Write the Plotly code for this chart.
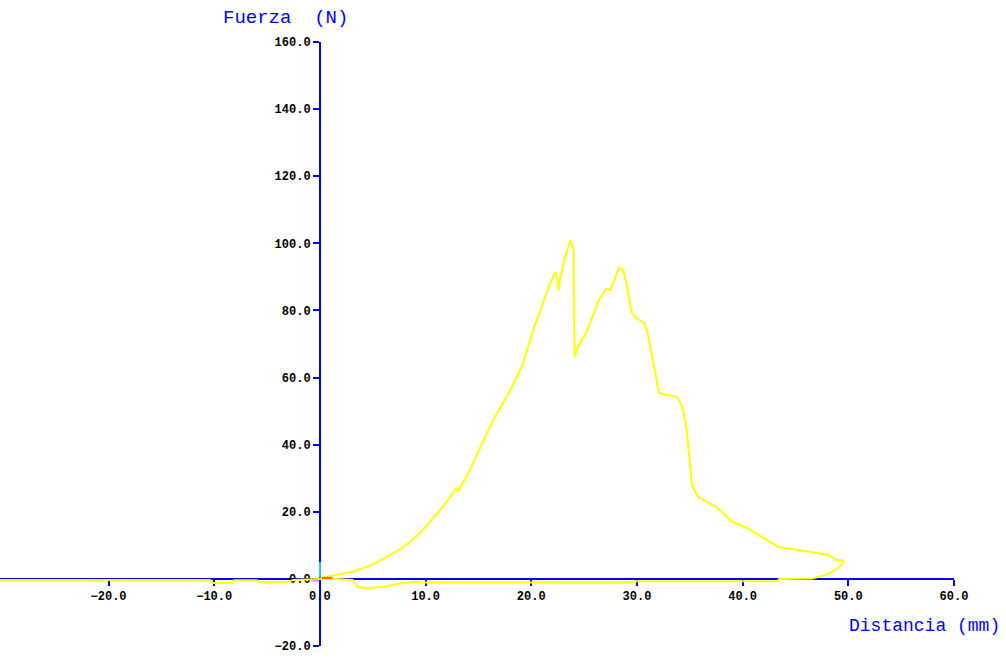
import plotly.graph_objects as go

# Loading curve (Distancia mm, Fuerza N)
load_x = [0, 0.5, 1.5, 3.1, 4.7, 6.3, 7.5, 8.5, 9.5, 10.4, 11.2, 12.0, 12.9, 13.1, 13.6, 14.2,
          15.3, 16.4, 17.8, 19.1, 20.2, 21.3, 21.8, 22.3, 22.6, 22.7, 23.2, 23.7, 24.0, 24.1,
          24.4, 25.2, 26.4, 27.1, 27.5, 28.3, 28.7, 29.0, 29.5, 29.9, 30.7, 31.0, 31.5, 32.1,
          33.8, 34.3, 34.7, 35.1, 35.2, 35.8, 37.5, 39.0, 40.3, 41.8, 43.4, 45.9, 48.1, 48.8, 49.6]
load_y = [0, 0.6, 1.2, 2.1, 3.9, 6.6, 8.6, 11.0, 13.8, 17.0, 19.8, 23.0, 27.0, 26.2, 29.0, 32.5,
          40.0, 47.4, 55.0, 63.2, 74.2, 84.0, 88.2, 91.5, 86.0, 89.0, 96.0, 101.0, 98.0, 66.2,
          69.1, 73.3, 83.1, 86.4, 86.1, 92.7, 92.0, 88.2, 79.3, 77.8, 76.3, 73.3, 65.3, 55.4,
          54.2, 51.3, 44.4, 32.5, 28.0, 24.4, 21.5, 17.0, 15.5, 12.5, 9.5, 8.3, 7.2, 5.7, 5.4]

# Return curve
unload_x = [49.6, 49.1, 47.9, 46.6, 43.5, 43.2, 30.0, 29.3, 20.5, 20.2, 9.5, 9.2, 8.6, 7.3, 6.0,
            4.4, 3.6, 3.3, 3.1, 1.5, 0, -2.5, -3.1, -5.7, -6.0, -8.1, -8.2, -10.2, -10.4, -30.3]
unload_y = [5.4, 3.3, 1.2, 0.1, 0.0, -0.7, -0.7, -1.0, -1.0, -1.1, -1.1, -0.8, -1.0, -1.5, -2.4,
            -2.7, -2.4, -0.9, -0.3, 0.0, 0.0, -0.3, -0.9, -0.9, -0.4, -0.4, -1.2, -1.2, -0.3, -0.3]

# Small extra series near the origin
orange_x = [0.2, 1.2]
orange_y = [0.3, 0.3]
pink_x = [-0.8, -0.1]
pink_y = [-0.5, -0.5]
cyan_x = [0, 0]
cyan_y = [0.5, 5.0]

x_ticks = [-20, -10, 0, 10, 20, 30, 40, 50, 60]
y_ticks = [-20, 0, 20, 40, 60, 80, 100, 120, 140, 160]

W, H = 1006, 662
fig = go.Figure()
fig.add_trace(go.Scatter(x=load_x, y=load_y, mode="lines",
                         line=dict(color="#FFFF00", width=2)))
fig.add_trace(go.Scatter(x=unload_x, y=unload_y, mode="lines",
                         line=dict(color="#FFFF00", width=2)))
fig.add_trace(go.Scatter(x=pink_x, y=pink_y, mode="lines",
                         line=dict(color="#FF80FF", width=2)))
fig.add_trace(go.Scatter(x=orange_x, y=orange_y, mode="lines",
                         line=dict(color="#FF6600", width=2)))
fig.add_trace(go.Scatter(x=cyan_x, y=cyan_y, mode="lines",
                         line=dict(color="#33CCFF", width=2)))

tickfont = dict(family="Liberation Mono", size=12, color="black", weight="bold")
fig.update_layout(
    width=W, height=H,
    margin=dict(l=0, r=0, t=0, b=0),
    paper_bgcolor="white", plot_bgcolor="white",
    showlegend=False,
    xaxis=dict(
        domain=[0, 954 / W], range=[-30.27, 60],
        anchor="free", position=(H - 579) / H, automargin=False,
        showgrid=False, zeroline=False,
        showline=True, linecolor="#0000FF", linewidth=2,
        ticks="outside", ticklen=6, tickwidth=2, tickcolor="#0000FF",
        tickvals=x_ticks, tickformat=".1f", tickfont=tickfont,
        layer="below traces",
    ),
    yaxis=dict(
        domain=[(H - 646) / H, (H - 42) / H], range=[-20, 160],
        anchor="free", position=320 / W, automargin=False,
        showgrid=False, zeroline=False,
        showline=True, linecolor="#0000FF", linewidth=2,
        ticks="outside", ticklen=6, tickwidth=2, tickcolor="#0000FF",
        tickvals=y_ticks, tickformat=".1f", tickfont=tickfont,
        layer="below traces",
    ),
    annotations=[
        dict(text="Fuerza\u00a0\u00a0(N)", x=285 / W, y=1 - 18 / H, xref="paper", yref="paper",
             showarrow=False, xanchor="center", yanchor="middle",
             font=dict(family="Liberation Mono", size=19, color="#0000FF")),
        dict(text="Distancia (mm)", x=924 / W, y=1 - 626 / H, xref="paper", yref="paper",
             showarrow=False, xanchor="center", yanchor="middle",
             font=dict(family="Liberation Mono", size=18, color="#0000FF")),
    ],
)

fig.write_html(
    "out.html",
    post_script="document.body.style.margin='0';document.body.style.overflow='hidden';",
)
